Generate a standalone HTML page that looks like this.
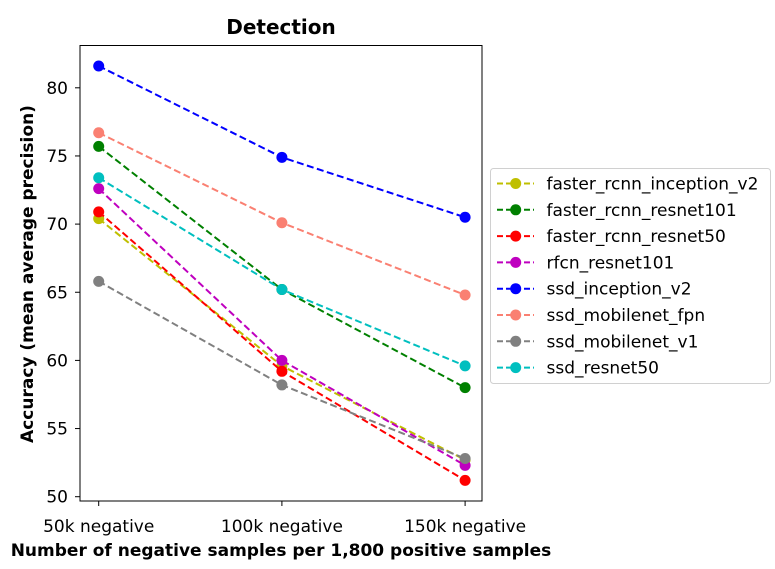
<!DOCTYPE html>
<html><head><meta charset="utf-8"><style>
body{margin:0;background:#fff;}
svg text{font-family:"DejaVu Sans","Liberation Sans",sans-serif;fill:#000;}
</style></head><body>
<svg id="chart" width="775" height="564" xmlns="http://www.w3.org/2000/svg"></svg>
<script>
const categories = ["50k negative","100k negative","150k negative"];
const seriesNames = ["faster_rcnn_inception_v2","faster_rcnn_resnet101","faster_rcnn_resnet50","rfcn_resnet101","ssd_inception_v2","ssd_mobilenet_fpn","ssd_mobilenet_v1","ssd_resnet50"];
const seriesColors = ["#bfbf00","#008000","#ff0000","#bf00bf","#0000ff","#fa8072","#808080","#00bfbf"];
const fasterInceptionV2 = [70.4, 59.6, 52.7];
const fasterResnet101 = [75.7, 65.2, 58.0];
const fasterResnet50 = [70.9, 59.2, 51.2];
const rfcnResnet101 = [72.6, 60.0, 52.3];
const ssdInceptionV2 = [81.6, 74.9, 70.5];
const ssdMobilenetFpn = [76.7, 70.1, 64.8];
const ssdMobilenetV1 = [65.8, 58.2, 52.8];
const ssdResnet50 = [73.4, 65.2, 59.6];
const yTicks = [50,55,60,65,70,75,80];

const allSeries=[fasterInceptionV2,fasterResnet101,fasterResnet50,rfcnResnet101,ssdInceptionV2,ssdMobilenetFpn,ssdMobilenetV1,ssdResnet50];
const NS="http://www.w3.org/2000/svg";
const svg=document.getElementById('chart');
const L=80,T=45.5,R=482,B=501;
function xS(i){return 98.7+i*183.2;}
function yS(v){return 496.7-(v-50)*13.63;}
function el(tag,attrs,parent){const e=document.createElementNS(NS,tag);for(const k in attrs)e.setAttribute(k,attrs[k]);(parent||svg).appendChild(e);return e;}

let t=el('text',{x:(L+R)/2,y:34,'text-anchor':'middle','font-size':20,'font-weight':'bold'});t.textContent='Detection';



yTicks.forEach(v=>{
  const g=el('g',{});
  
  
  el('line',{x1:L-5,x2:L,y1:yS(v),y2:yS(v),stroke:'#000','stroke-width':1},g);
  const tx=el('text',{x:L-12,y:yS(v)+6,'text-anchor':'end','font-size':17},g);tx.textContent=v;
});
categories.forEach((c,i)=>{
  const g=el('g',{});
  
  
  el('line',{x1:xS(i),x2:xS(i),y1:B,y2:B+5,stroke:'#000','stroke-width':1},g);
  const tx=el('text',{x:xS(i),y:B+31,'text-anchor':'middle','font-size':17},g);tx.textContent=c;
});
t=el('text',{x:281,y:556,'text-anchor':'middle','font-size':17,'font-weight':'bold'});t.textContent='Number of negative samples per 1,800 positive samples';


t=el('text',{x:0,y:0,'text-anchor':'middle','font-size':17,'font-weight':'bold',transform:'translate(33,274) rotate(-90)'});t.textContent='Accuracy (mean average precision)';



allSeries.forEach((s,k)=>{
  const g=el('g',{});
  
  
  el('polyline',{points:s.map((v,i)=>xS(i)+','+yS(v)).join(' '),fill:'none',stroke:seriesColors[k],'stroke-width':2,'stroke-dasharray':'7,3.5'},g);
  s.forEach((v,i)=>{
    const c=el('circle',{cx:xS(i),cy:yS(v),r:5.5,fill:seriesColors[k]},g);
    
    
  });
});
const frame=el('rect',{x:L,y:T,width:R-L,height:B-T,fill:'none',stroke:'#000','stroke-width':1});



const lg=el('g',{});


el('rect',{x:490.5,y:168.5,width:280,height:215,rx:3,fill:'#fff',stroke:'#d0d0d0','stroke-width':1},lg);
seriesNames.forEach((n,k)=>{
  const y=183.5+k*26.3;
  const g=el('g',{},lg);
  
  
  el('line',{x1:497,x2:534,y1:y,y2:y,stroke:seriesColors[k],'stroke-width':2,'stroke-dasharray':'6,3'},g);
  el('circle',{cx:515.7,cy:y,r:5.5,fill:seriesColors[k]},g);
  const tx=el('text',{x:546.5,y:y+6,'font-size':17},g);tx.textContent=n;
});
</script>
</body></html>
